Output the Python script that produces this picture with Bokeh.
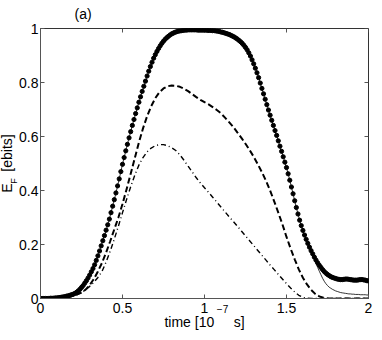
import numpy as np
from bokeh.plotting import figure
from bokeh.models import LinearAxis, FixedTicker, Range1d, Title
from bokeh.embed import file_html
from bokeh.resources import INLINE

# ---------------- data ----------------
x_ticks = [0, 0.5, 1, 1.5, 2]
x_tick_labels = ["0", "0.5", "1", "1.5", "2"]
y_ticks = [0, 0.2, 0.4, 0.6, 0.8, 1]
y_tick_labels = ["0", "0.2", "0.4", "0.6", "0.8", "1"]

# time grid for the dotted (and thin solid) curve, step 0.01 [1e-7 s]
t_fine = np.round(np.arange(201) * 0.01, 2)
ef_dots = [
    0.000, 0.000, 0.000, 0.000, 0.000, 0.000, 0.001, 0.001, 0.001, 0.002,
    0.002, 0.003, 0.004, 0.005, 0.006, 0.007, 0.009, 0.010, 0.012, 0.014,
    0.016, 0.019, 0.023, 0.028, 0.034, 0.041, 0.048, 0.057, 0.066, 0.076,
    0.087, 0.099, 0.111, 0.125, 0.141, 0.158, 0.176, 0.195, 0.214, 0.233,
    0.253, 0.273, 0.294, 0.318, 0.342, 0.366, 0.391, 0.417, 0.443, 0.470,
    0.497, 0.522, 0.547, 0.571, 0.595, 0.618, 0.641, 0.663, 0.685, 0.706,
    0.727, 0.747, 0.767, 0.786, 0.805, 0.824, 0.842, 0.859, 0.875, 0.890,
    0.903, 0.915, 0.926, 0.936, 0.945, 0.953, 0.960, 0.966, 0.971, 0.976,
    0.980, 0.983, 0.986, 0.988, 0.990, 0.991, 0.992, 0.993, 0.994, 0.994,
    0.995, 0.995, 0.995, 0.995, 0.995, 0.995, 0.994, 0.994, 0.994, 0.994,
    0.994, 0.994, 0.993, 0.993, 0.993, 0.992, 0.992, 0.991, 0.990, 0.989,
    0.987, 0.986, 0.984, 0.982, 0.980, 0.978, 0.975, 0.972, 0.969, 0.965,
    0.961, 0.956, 0.951, 0.945, 0.938, 0.930, 0.921, 0.910, 0.898, 0.884,
    0.869, 0.853, 0.836, 0.818, 0.798, 0.778, 0.758, 0.738, 0.718, 0.698,
    0.679, 0.660, 0.641, 0.622, 0.604, 0.584, 0.564, 0.545, 0.525, 0.505,
    0.485, 0.462, 0.438, 0.413, 0.388, 0.362, 0.337, 0.313, 0.290, 0.270,
    0.252, 0.235, 0.219, 0.204, 0.190, 0.177, 0.165, 0.153, 0.142, 0.132,
    0.123, 0.115, 0.107, 0.100, 0.094, 0.089, 0.085, 0.081, 0.078, 0.076,
    0.074, 0.072, 0.071, 0.070, 0.070, 0.071, 0.072, 0.072, 0.071, 0.070,
    0.069, 0.068, 0.068, 0.068, 0.069, 0.070, 0.070, 0.069, 0.068, 0.066,
    0.065,
]
# thin solid curve: same as dotted up to t = 1.64, then its own tail (t = 1.65 ... 2.00)
thin_split = 165
thin_tail = [
    0.175, 0.160, 0.145, 0.130, 0.115, 0.101, 0.088, 0.075, 0.064, 0.055,
    0.048, 0.042, 0.038, 0.034, 0.031, 0.028, 0.026, 0.024, 0.022, 0.021,
    0.020, 0.019, 0.018, 0.017, 0.017, 0.016, 0.016, 0.015, 0.015, 0.015,
    0.014, 0.014, 0.014, 0.014, 0.013, 0.013,
]

# time grid for dashed and dash-dot curves, step 0.025
t_coarse = np.round(np.arange(81) * 0.025, 3)
ef_dashed = [
    0.000, 0.000, 0.000, 0.000, 0.001, 0.002, 0.004, 0.006, 0.010, 0.015,
    0.022, 0.033, 0.050, 0.072, 0.100, 0.132, 0.170, 0.212, 0.256, 0.300,
    0.350, 0.405, 0.462, 0.520, 0.578, 0.630, 0.675, 0.712, 0.742, 0.764,
    0.778, 0.786, 0.789, 0.788, 0.784, 0.777, 0.768, 0.757, 0.746, 0.736,
    0.727, 0.719, 0.709, 0.698, 0.686, 0.670, 0.653, 0.636, 0.615, 0.595,
    0.573, 0.550, 0.525, 0.497, 0.468, 0.436, 0.400, 0.360, 0.318, 0.275,
    0.228, 0.185, 0.145, 0.108, 0.077, 0.052, 0.032, 0.017, 0.008, 0.003,
    0.001, 0.000, 0.000, 0.000, 0.000, 0.000, 0.000, 0.000, 0.000, 0.000,
    0.000,
]
ef_dashdot = [
    0.000, 0.000, 0.000, 0.000, 0.001, 0.002, 0.003, 0.006, 0.010, 0.015,
    0.022, 0.032, 0.045, 0.060, 0.078, 0.100, 0.135, 0.175, 0.220, 0.268,
    0.318, 0.367, 0.414, 0.457, 0.494, 0.522, 0.543, 0.557, 0.566, 0.570,
    0.570, 0.566, 0.558, 0.548, 0.532, 0.512, 0.490, 0.469, 0.447, 0.428,
    0.410, 0.393, 0.375, 0.357, 0.339, 0.321, 0.303, 0.286, 0.268, 0.250,
    0.232, 0.214, 0.196, 0.178, 0.160, 0.142, 0.124, 0.107, 0.089, 0.072,
    0.055, 0.039, 0.024, 0.012, 0.004, 0.001, 0.000, 0.000, 0.000, 0.000,
    0.000, 0.000, 0.000, 0.000, 0.000, 0.000, 0.000, 0.000, 0.000, 0.000,
    0.000,
]

panel_title = "(a)"
x_label_main = "time [10"
x_label_sup = "\u22127"
x_label_end = "s]"
y_label_main = "E"
y_label_sub = "F"
y_label_end = "[ebits]"

FONT = "Liberation Sans"
AX = "#555555"
NB = "\u00a0"

# ---------------- figure ----------------
p = figure(width=374, height=338, output_backend="svg", toolbar_location=None,
           x_range=Range1d(0, 2), y_range=Range1d(0, 1),
           min_border_left=40, min_border_right=6, min_border_top=28,
           min_border_bottom=40)
p.grid.visible = False
p.outline_line_color = "#333333"
p.outline_line_width = 1
p.background_fill_color = "white"
p.border_fill_color = "white"

for ax, ticks, labs, standoff in ((p.xaxis[0], x_ticks, x_tick_labels, 4),
                                  (p.yaxis[0], y_ticks, y_tick_labels, 2)):
    ax.ticker = FixedTicker(ticks=ticks)
    ax.major_label_overrides = {float(t): l for t, l in zip(ticks, labs)}
    ax.major_tick_in = 4
    ax.major_tick_out = 0
    ax.minor_tick_in = 0
    ax.minor_tick_out = 0
    ax.major_tick_line_color = AX
    ax.axis_line_color = AX
    ax.major_label_text_font = FONT
    ax.major_label_text_font_size = "14px"
    ax.major_label_text_color = "black"
    ax.major_label_standoff = standoff
    ax.axis_label_text_font = FONT
    ax.axis_label_text_font_style = "normal"
    ax.axis_label_text_color = "black"

# inner axis labels: superscript / subscript (smaller), padded to sit beside the main text
p.xaxis[0].axis_label = NB * 13 + x_label_sup
p.xaxis[0].axis_label_text_font_size = "10px"
p.xaxis[0].axis_label_standoff = -12
p.yaxis[0].axis_label = y_label_sub + NB * 14
p.yaxis[0].axis_label_text_font_size = "9px"
p.yaxis[0].axis_label_standoff = -3

# outer label-only axis carrying the main x label text
xlab = LinearAxis(ticker=FixedTicker(ticks=[]), axis_line_color=None,
                  major_tick_line_color=None, minor_tick_line_color=None,
                  axis_label=x_label_main + NB * 5 + x_label_end,
                  axis_label_text_font=FONT, axis_label_text_font_style="normal",
                  axis_label_text_font_size="14px", axis_label_text_color="black",
                  axis_label_standoff=-4)
p.add_layout(xlab, "below")

# main y label text as a left title (outside the subscript)
p.add_layout(Title(text=y_label_main + NB * 3 + y_label_end, align="center",
                   vertical_align="middle", standoff=-19,
                   text_font=FONT, text_font_size="14px",
                   text_font_style="normal", text_color="black"), "left")

p.add_layout(Title(text=panel_title, align="left", offset=34, standoff=9,
                   vertical_align="top",
                   text_font=FONT, text_font_size="14px",
                   text_font_style="normal", text_color="black"), "above")

# inward ticks on the top and right edges of the box
tick_dx = 4 / 164
tick_dy = 4 / 270
p.segment(x0=x_ticks, y0=[1] * len(x_ticks), x1=x_ticks,
          y1=[1 - tick_dy] * len(x_ticks), line_color=AX, line_width=1)
p.segment(x0=[2] * len(y_ticks), y0=y_ticks, x1=[2 - tick_dx] * len(y_ticks),
          y1=y_ticks, line_color=AX, line_width=1)

# ---------------- curves ----------------
thin = list(ef_dots[:thin_split]) + thin_tail
p.line(t_fine, thin, line_color="black", line_width=0.8)
p.line(t_coarse, ef_dashdot, line_color="black", line_width=1.4, line_dash="5 3 1 3")
p.line(t_coarse, ef_dashed, line_color="black", line_width=2.0, line_dash="6 3")
p.scatter(t_fine, ef_dots, size=4.2, fill_color="black", line_color="black")

open("out.html", "w").write(file_html(p, INLINE))
